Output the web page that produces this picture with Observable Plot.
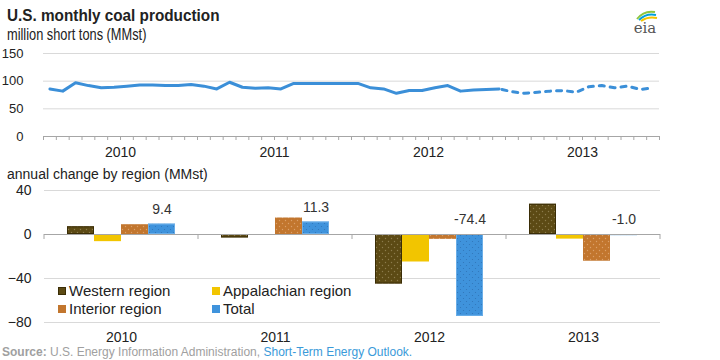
<!DOCTYPE html>
<html>
<head>
<meta charset="utf-8">
<script src="https://cdn.jsdelivr.net/npm/d3@7"></script>
<script src="https://cdn.jsdelivr.net/npm/@observablehq/plot@0.6"></script>
<style>
html, body { margin: 0; padding: 0; background: #fff; }
#root { position: relative; width: 720px; height: 360px; overflow: hidden; font-family: "Liberation Sans", Arial, sans-serif; color: #222; }
.narrow { transform-origin: 0 50%; }
#title { position: absolute; left: 7px; top: 6px; font-size: 17px; font-weight: bold; white-space: nowrap; transform: scaleX(0.9); }
#subtitle { position: absolute; left: 7px; top: 26px; font-size: 16px; white-space: nowrap; transform: scaleX(0.8); }
#sub2 { position: absolute; left: 7px; top: 166px; font-size: 14px; white-space: nowrap; }
#top { position: absolute; left: 0; top: 42px; }
#bottom { position: absolute; left: 0; top: 180px; }
#legend .item { position: absolute; display: flex; align-items: center; font-size: 15px; line-height: 17px; white-space: nowrap; color: #222; }
#legend .sw { width: 8px; height: 8px; margin-right: 3px; box-sizing: border-box; }
#source { position: absolute; left: 2px; top: 345px; font-size: 12px; color: #a0a0a0; white-space: nowrap; }
#source b { color: #a0a0a0; }
#source span { color: #3a9ad9; }
#logo { position: absolute; left: 628px; top: 8px; }
</style>
</head>
<body>
<svg width="0" height="0" style="position:absolute">
  <defs>
    <pattern id="pW" width="6" height="6" patternUnits="userSpaceOnUse">
      <rect width="6" height="6" fill="#5c4a14"/>
      <circle cx="1.5" cy="1.5" r="0.7" fill="#8c7c4c"/>
      <circle cx="4.5" cy="4.5" r="0.7" fill="#8c7c4c"/>
    </pattern>
    <pattern id="pA" width="6" height="6" patternUnits="userSpaceOnUse">
      <rect width="6" height="6" fill="#f2c500"/>
    </pattern>
    <pattern id="pI" width="6" height="6" patternUnits="userSpaceOnUse">
      <rect width="6" height="6" fill="#c2762e"/>
      <circle cx="1.5" cy="1.5" r="0.7" fill="#dca068"/>
      <circle cx="4.5" cy="4.5" r="0.7" fill="#dca068"/>
    </pattern>
    <pattern id="pT" width="6" height="6" patternUnits="userSpaceOnUse">
      <rect width="6" height="6" fill="#3f93dc"/>
      <circle cx="1.5" cy="1.5" r="0.6" fill="#2f74b8"/>
      <circle cx="4.5" cy="4.5" r="0.6" fill="#2f74b8"/>
    </pattern>
  </defs>
</svg>
<div id="root">
  <div id="title" class="narrow">U.S. monthly coal production</div>
  <div id="subtitle" class="narrow">million short tons (MMst)</div>
  <svg id="logo" width="34" height="28" viewBox="0 0 34 28">
    <path d="M9 11 Q16 2 27 4" fill="none" stroke="#8dc63f" stroke-width="2"/>
    <path d="M11 12 Q18 5 28 7" fill="none" stroke="#00a0dc" stroke-width="2"/>
    <path d="M13 13 Q20 8 29 10" fill="none" stroke="#f2c500" stroke-width="2"/>
    <text x="17" y="25" text-anchor="middle" font-family="DejaVu Serif, serif" font-size="15" fill="#555">eia</text>
  </svg>
  <div id="top"></div>
  <div id="sub2">annual change by region (MMst)</div>
  <div id="bottom"></div>
  <div id="legend"></div>
  <div id="source"><b>Source:</b> U.S. Energy Information Administration, <span>Short-Term Energy Outlook.</span></div>
</div>
<script>
// ---------- data ----------
const years = ["2010", "2011", "2012", "2013"];
// monthly production, Jan 2010 – Dec 2013 (MMst)
const production = [
  86, 82, 97, 92, 88, 89, 91, 93, 93, 92, 92, 94,
  91, 86, 98, 89, 87, 88, 86, 96, 96, 96, 96, 96,
  96, 88, 86, 78, 83, 83, 88, 92, 82, 84, 85, 86,
  81, 78, 80, 82, 83, 80, 90, 92, 88, 91, 85, 88
];
const lastHistoricalMonth = 35; // index; months after are forecast (dashed)

const regions = ["Western region", "Appalachian region", "Interior region", "Total"];
const western     = [7.0, -3.1, -45.0, 27.5];
const appalachian = [-6.5, -0.6, -25.0, -4.2];
const interior    = [8.9, 15.0, -4.4, -24.3];
const total       = [9.4, 11.3, -74.4, -1.0];

// ---------- styles ----------
const regularFont = '"Liberation Sans", Arial, sans-serif';
const lineColor = "#3b8fd8";
const patterns = ["url(#pW)", "url(#pA)", "url(#pI)", "url(#pT)"];
const swatchColors = ["#5c4a14", "#f2c500", "#c2762e", "#3f93dc"];

// ---------- top chart ----------
const monthly = production.map((v, i) => ({m: i + 0.5, v, i}));
const hist = monthly.filter(d => d.i <= lastHistoricalMonth);
const fcst = monthly.filter(d => d.i >= lastHistoricalMonth);
const yearRows = years.map((y, k) => ({year: y, mid: k * 12 + 6}));

const topPlot = Plot.plot({
  width: 720,
  height: 124,
  marginLeft: 43,
  marginRight: 61,
  marginTop: 11,
  marginBottom: 30,
  style: {fontFamily: regularFont, fontSize: "13px", color: "#222", background: "transparent", overflow: "visible"},
  x: {domain: [0, 48]},
  y: {domain: [0, 150]},
  marks: [
    Plot.ruleY([50, 100, 150], {stroke: "#d9d9d9"}),
    Plot.ruleY([0], {stroke: "#a6a6a6"}),
    Plot.axisX({ticks: d3.range(0, 49), tickSize: 4, tickFormat: () => "", stroke: "#a6a6a6", label: null}),
    Plot.axisY({ticks: [0, 50, 100, 150], tickSize: 0, tickPadding: 20, label: null, fontSize: 13}),
    Plot.text(yearRows, {x: "mid", text: "year", frameAnchor: "bottom", dy: 20, fontFamily: regularFont, fontSize: 14, fill: "#222"}),
    Plot.line(hist, {x: "m", y: "v", stroke: lineColor, strokeWidth: 3, strokeLinejoin: "round", strokeLinecap: "round"}),
    Plot.line(fcst, {x: "m", y: "v", stroke: lineColor, strokeWidth: 3, strokeDasharray: "5,6", strokeDashoffset: -3, strokeLinecap: "round", strokeLinejoin: "round"})
  ]
});
document.getElementById("top").appendChild(topPlot);

// ---------- bottom chart ----------
const series = [western, appalachian, interior, total];
const rows = years.flatMap((yr, i) => regions.map((r, j) => ({year: yr, region: r, value: series[j][i]})));

const bottomPlot = Plot.plot({
  width: 720,
  height: 166,
  marginLeft: 43,
  marginRight: 59,
  marginTop: 10,
  marginBottom: 24,
  style: {fontFamily: regularFont, fontSize: "14px", color: "#222", background: "transparent", overflow: "visible"},
  fx: {domain: years, padding: 0, label: null, tickSize: 0, tickPadding: 10, axis: "bottom"},
  x: {domain: regions, axis: null, paddingInner: 0, paddingOuter: 0.81},
  y: {domain: [-80, 40], ticks: [-80, -40, 0, 40], tickSize: 0, tickPadding: 13, label: null},
  color: {domain: regions, range: patterns},
  marks: [
    Plot.ruleY([-80, -40, 40], {stroke: "#d9d9d9"}),
    Plot.barY(rows, {fx: "year", x: "region", y: "value", fill: "region", inset: 0}),
    Plot.barY(rows.filter(d => d.region === "Western region"), {fx: "year", x: "region", y: "value", fill: "none", stroke: "#3a2d06", inset: 0.5}),
    Plot.barY(rows.filter(d => d.region === "Total"), {fx: "year", x: "region", y: "value", fill: "none", stroke: "#6aaee8", inset: 0.5}),
    Plot.ruleY([0], {stroke: "#a6a6a6"}),
    Plot.text(rows.filter(d => d.region === "Total"), {fx: "year", x: "region", y: d => Math.max(0, d.value), text: d => d.value.toFixed(1), dy: -15, fill: "#333", fontSize: 14})
  ]
});
document.getElementById("bottom").appendChild(bottomPlot);

// category separator ticks on the zero line, placed from the plot's own scales
const fxS = bottomPlot.scale("fx");
const yS = bottomPlot.scale("y");
const edges = years.map(y => fxS.apply(y)).concat([fxS.apply(years[years.length - 1]) + fxS.bandwidth]);
const y0 = yS.apply(0);
d3.select(bottomPlot).append("g")
  .selectAll("line").data(edges).join("line")
  .attr("x1", d => d).attr("x2", d => d)
  .attr("y1", y0).attr("y2", y0 + 5)
  .attr("stroke", "#a6a6a6");

// ---------- legend ----------
const legendPos = [[58, 282], [212, 282], [58, 300], [212, 300]];
const legend = document.getElementById("legend");
regions.forEach((r, i) => {
  const item = document.createElement("div");
  item.className = "item";
  item.style.left = legendPos[i][0] + "px";
  item.style.top = legendPos[i][1] + "px";
  const sw = document.createElement("div");
  sw.className = "sw";
  sw.style.background = swatchColors[i];
  if (i === 0) sw.style.border = "1px solid #3a2d06";
  item.appendChild(sw);
  item.appendChild(document.createTextNode(r));
  legend.appendChild(item);
});
</script>
</body>
</html>
